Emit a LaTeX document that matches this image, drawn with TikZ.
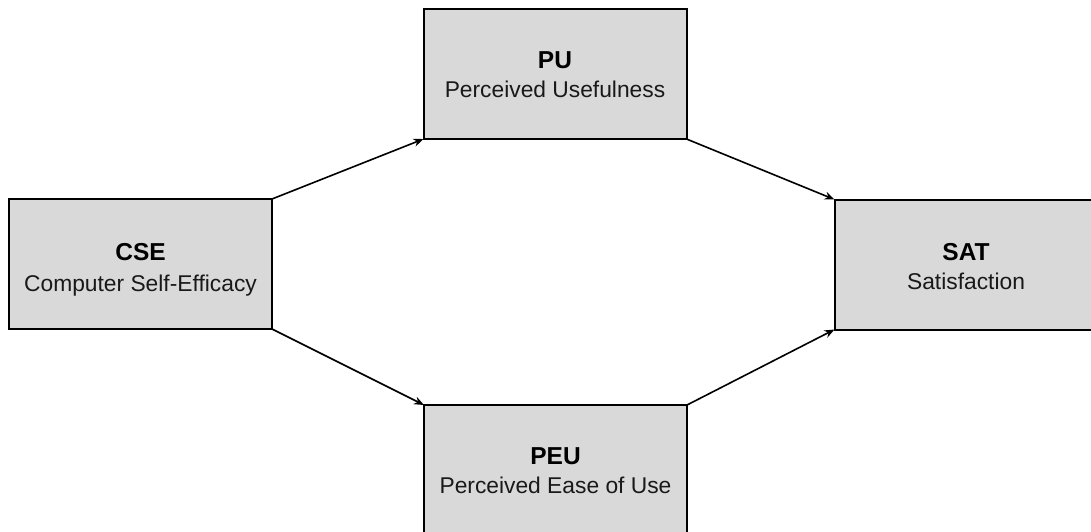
\documentclass[tikz,border=0pt]{standalone}
\usepackage{fontspec}
\setmainfont{Liberation Sans}
\usetikzlibrary{arrows.meta}
\definecolor{boxgray}{RGB}{217,217,217}
\tikzset{
  construct/.style={draw=black, fill=boxgray, line width=2pt, rectangle,
    inner sep=0pt, outer sep=0pt, minimum width=263pt, minimum height=130pt},
  abbr/.style={anchor=base, font=\fontsize{24.5}{28}\selectfont\bfseries, inner sep=0pt},
  fullname/.style={anchor=base, font=\fontsize{22.8}{26}\selectfont, inner sep=0pt, text=black!90},
  path/.style={-{Stealth[length=10pt,width=8pt]}, line width=1.6pt, black}
}
\begin{document}
\begin{tikzpicture}[x=1pt,y=-1pt]
  \useasboundingbox (0,0) rectangle (1091,531);
  \clip (0,0) rectangle (1091,531);

  % constructs
  \node[construct] (cse) at (140.5,264) {};
  \node[construct] (pu)  at (555,74) {};
  \node[construct] (peu) at (555.5,470) {};
  \node[construct] (sat) at (966,264.5) {};

  % labels
  \node[abbr] (cseA) at (140.5,260) {CSE};
  \node[fullname] (cseB) at (140.5,291) {Computer Self-Efficacy};
  \node[abbr] (puA) at (555,68) {PU};
  \node[fullname] (puB) at (555,97) {Perceived Usefulness};
  \node[abbr] (peuA) at (555.5,464) {PEU};
  \node[fullname] (peuB) at (555.5,493) {Perceived Ease of Use};
  \node[abbr] (satA) at (966,260) {SAT};
  \node[fullname] (satB) at (966,289) {Satisfaction};

  % hypothesised paths
  \draw[path] (cse.north east) -- (pu.south west);
  \draw[path] (cse.south east) -- (peu.north west);
  \draw[path] (pu.south east) -- (sat.north west);
  \draw[path] (peu.north east) -- (sat.south west);
\end{tikzpicture}
\end{document}
